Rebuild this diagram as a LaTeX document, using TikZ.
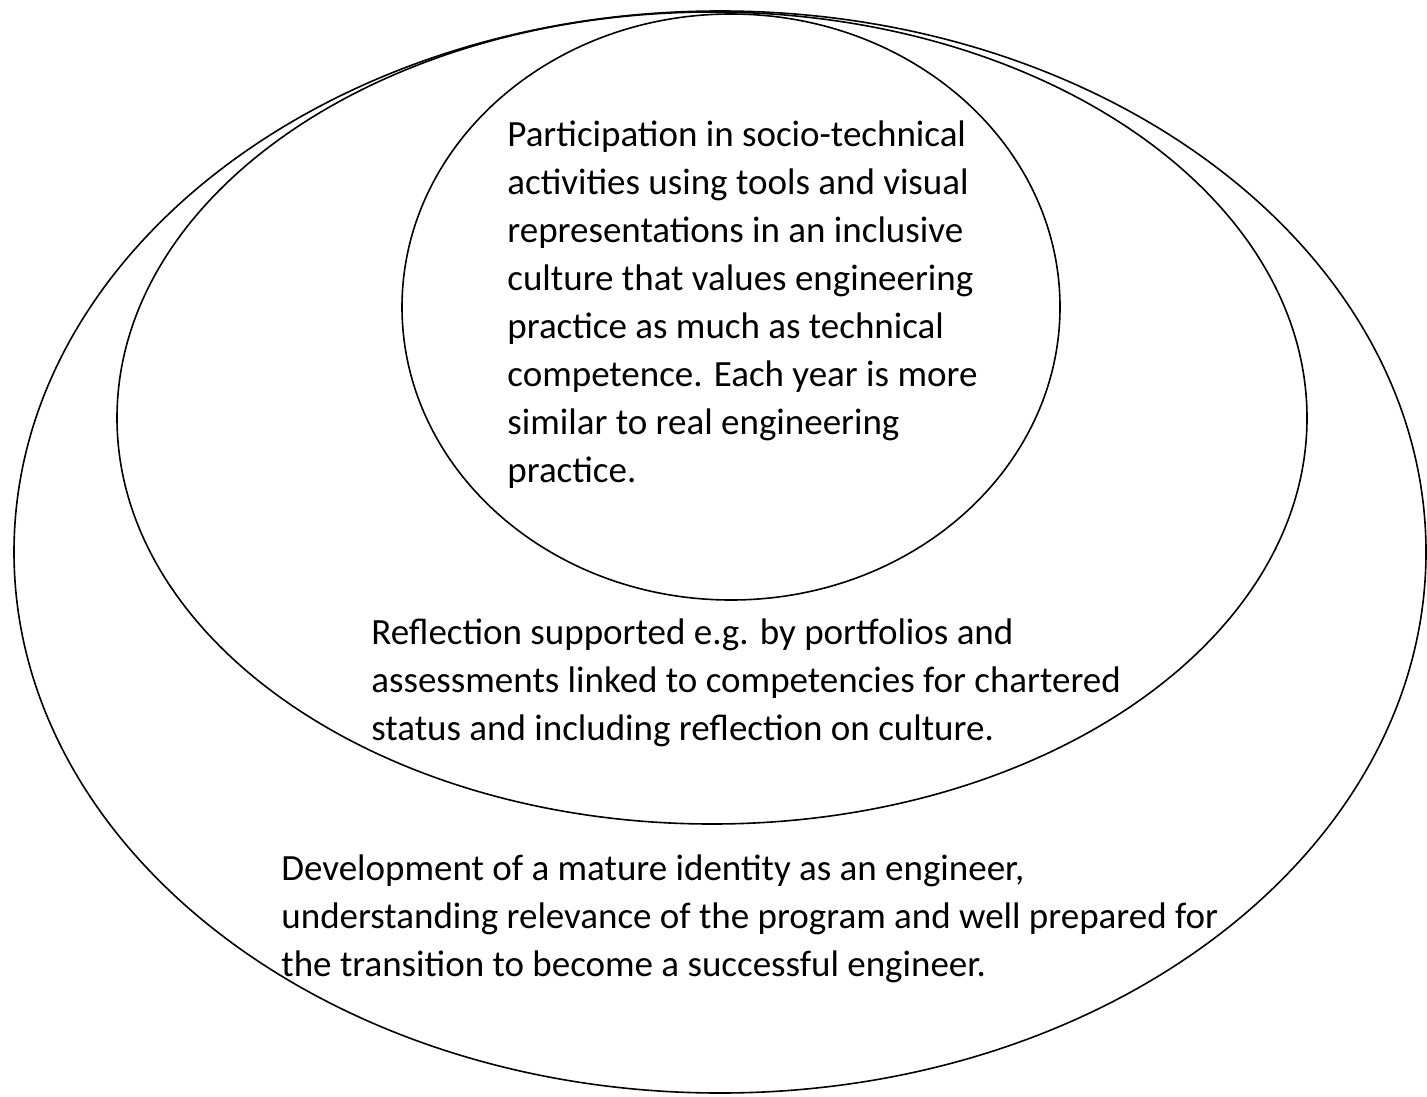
\documentclass[tikz,border=0pt]{standalone}
\usepackage{fontspec}
\setmainfont{Carlito}
\usepackage{tikz}
\tikzset{
	ring/.style={line width=0.8pt, color=black},
	blurb/.style={anchor=north west, align=left, inner sep=0pt, font=\fontsize{18.5}{24}\selectfont}
}

\begin{document}
\begin{tikzpicture}[x=0.5pt, y=-0.5pt]
		%%%%% START %%%%%
		\useasboundingbox (0, 0) rectangle (1427, 1096);
		
		\draw[ring] (720, 552) ellipse [x radius=706, y radius=541];
		\draw[ring] (712, 418) ellipse [x radius=595, y radius=406];
		\draw[ring] (731, 307) ellipse [x radius=329, y radius=293];
		
		\node[blurb] (inner) at (507, 120) {Participation in socio-technical\\activities using tools and visual\\representations in an inclusive\\culture that values engineering\\practice as much as technical\\competence. Each year is more\\similar to real engineering\\practice.};
		
		\node[blurb] (middle) at (371, 618) {Reflection supported e.g. by portfolios and\\assessments linked to competencies for chartered\\status and including reflection on culture.};
		
		\node[blurb] (outer) at (281, 854) {Development of a mature identity as an engineer,\\understanding relevance of the program and well prepared for\\the transition to become a successful engineer.};
		
		%%%%% END %%%%%
\end{tikzpicture}
\end{document}
